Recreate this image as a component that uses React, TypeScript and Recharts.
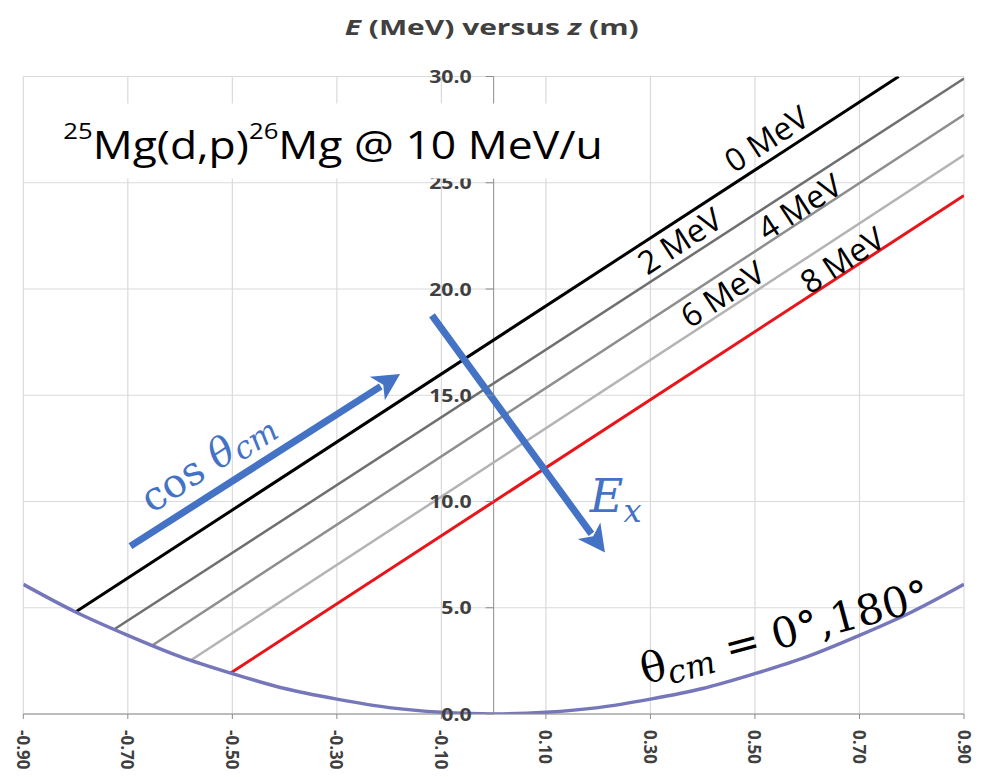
import React from "react";
import {
  ComposedChart,
  Line,
  XAxis,
  YAxis,
  CartesianGrid,
  ReferenceLine,
  ReferenceDot,
} from "recharts";

// axes
const Z_TICKS = [-0.9, -0.7, -0.5, -0.3, -0.1, 0.1, 0.3, 0.5, 0.7, 0.9];
const E_TICKS = [0, 5, 10, 15, 20, 25, 30];

// theta_cm = 0 / 180 deg boundary: E (MeV) against z (m)
const EDGE_Z = [-0.9, -0.8, -0.7, -0.6, -0.5, -0.4, -0.3, -0.2, -0.1, 0, 0.1, 0.2, 0.3, 0.4, 0.5, 0.6, 0.7, 0.8, 0.9];
const EDGE_E = [6.1, 4.8, 3.7, 2.7, 1.9, 1.2, 0.7, 0.3, 0.08, 0, 0.08, 0.3, 0.7, 1.2, 1.9, 2.7, 3.7, 4.8, 6.1];

// excitation-energy lines, from the boundary up to the edge of the plot
const EX_NAMES = ["0 MeV", "2 MeV", "4 MeV", "6 MeV", "8 MeV"];
const EX_Z_START = [-0.8, -0.725, -0.652, -0.578, -0.504];
const EX_E_START = [4.8, 4.0, 3.25, 2.55, 1.92];
const EX_Z_END = [0.775, 0.9, 0.9, 0.9, 0.9];
const EX_E_END = [30.0, 29.9, 28.2, 26.3, 24.4];
const EX_LABEL_Z = [0.521, 0.355, 0.584, 0.437, 0.666];
const EX_LABEL_E = [27.1, 22.3, 23.9, 19.8, 21.4];

const EX_COLORS = ["#000000", "#6f6f6f", "#8e8e8e", "#b4b4b4", "#e8161b"];
const EX_WIDTHS = [3, 2.5, 2.5, 2.5, 3];

const BLUE = "#4472c4";
const TICK_FONT = '"Open Sans", "Liberation Sans", sans-serif';
const MATH_FONT = '"DejaVu Serif", "Liberation Serif", serif';

const edgeData = EDGE_Z.map((z, i) => ({ z, E: EDGE_E[i] }));
const exData = EX_NAMES.map((_, i) => [
  { z: EX_Z_START[i], E: EX_E_START[i] },
  { z: EX_Z_END[i], E: EX_E_END[i] },
]);

const XTick = (props: any) => {
  const { x, y, payload } = props;
  return (
    <text
      x={x}
      y={y}
      transform={`rotate(90 ${x} ${y})`}
      dx={9}
      textAnchor="start"
      dominantBaseline="central"
      fontFamily={TICK_FONT}
      fontWeight={700}
      fontSize={17}
      fill="#404040"
    >
      {payload.value.toFixed(2)}
    </text>
  );
};

// y tick labels sit beside the z = 0 axis
const yTickShape = (value: number) => (p: any) => (
  <g>
    <line x1={p.cx - 8} y1={p.cy} x2={p.cx} y2={p.cy} stroke="#8c8c8c" />
    <text
      transform={`translate(${p.cx - 22} ${p.cy}) scale(1.25 1)`}
      textAnchor="end"
      dominantBaseline="central"
      fontFamily={TICK_FONT}
      fontWeight={700}
      fontSize={17}
      fill="#404040"
    >
      {value.toFixed(1)}
    </text>
  </g>
);

const Arrow = (p: any) => {
  const { x1, y1, x2, y2 } = p;
  const a = Math.atan2(y2 - y1, x2 - x1);
  const len = 27;
  const half = 14;
  const bx = x2 - len * Math.cos(a);
  const by = y2 - len * Math.sin(a);
  const nx = -Math.sin(a);
  const ny = Math.cos(a);
  return (
    <g>
      <line x1={x1} y1={y1} x2={bx + 4 * Math.cos(a)} y2={by + 4 * Math.sin(a)} stroke={BLUE} strokeWidth={7} />
      <polygon
        points={`${x2},${y2} ${bx + half * nx},${by + half * ny} ${bx + 7 * Math.cos(a)},${by + 7 * Math.sin(a)} ${bx - half * nx},${by - half * ny}`}
        fill={BLUE}
      />
    </g>
  );
};

const exLabel = (name: string) => (p: any) => (
  <text
    x={p.cx}
    y={p.cy}
    transform={`rotate(-33 ${p.cx} ${p.cy})`}
    textAnchor="middle"
    dominantBaseline="central"
    fontFamily={TICK_FONT}
    fontSize={32}
    fill="#000"
  >
    {name}
  </text>
);

// reaction caption on a white box that hides the grid behind it
const reactionNote = (p: any) => (
  <g>
    <rect x={p.cx - 23} y={p.cy - 55} width={585} height={75} fill="#fff" />
    <text
      transform={`translate(${p.cx} ${p.cy}) scale(1.17 1)`}
      fontFamily={TICK_FONT}
      fontSize={38}
      fill="#000"
    >
      <tspan fontSize={22} dy={-20}>25</tspan>
      <tspan dy={20}>Mg(d,p)</tspan>
      <tspan fontSize={22} dy={-20}>26</tspan>
      <tspan dy={20}>Mg @ 10 MeV/u</tspan>
    </text>
  </g>
);

const cosNote = (p: any) => (
  <text
    x={p.cx}
    y={p.cy}
    transform={`rotate(-33 ${p.cx} ${p.cy})`}
    textAnchor="middle"
    dominantBaseline="central"
    fontFamily={MATH_FONT}
    fontSize={40}
    fill={BLUE}
  >
    cos <tspan fontStyle="italic">θ</tspan>
    <tspan fontStyle="italic" fontSize={31} dy={8}>cm</tspan>
  </text>
);

const exNote = (p: any) => (
  <text x={p.cx} y={p.cy} fontFamily={MATH_FONT} fontSize={46} fill={BLUE}>
    <tspan fontStyle="italic">E</tspan>
    <tspan fontStyle="italic" fontSize={32} dy={10}>x</tspan>
  </text>
);

const edgeNote = (p: any) => (
  <text
    x={p.cx}
    y={p.cy}
    transform={`rotate(-15 ${p.cx} ${p.cy})`}
    textAnchor="middle"
    dominantBaseline="central"
    fontFamily={MATH_FONT}
    fontSize={42}
    fill="#000"
  >
    θ<tspan fontStyle="italic" fontSize={32} dy={10}>cm</tspan>
    <tspan dy={-10}> = 0°,180°</tspan>
  </text>
);

export default function App() {
  return (
    <div style={{ position: "absolute", left: 0, top: 0, width: 982, height: 777, background: "#fff" }}>
      <ComposedChart
        width={982}
        height={777}
        margin={{ top: 76.5, right: 18, bottom: 0, left: 23.3 }}
      >
        <CartesianGrid stroke="#dadada" strokeWidth={1.2} />
        <XAxis
          dataKey="z"
          type="number"
          domain={[-0.9, 0.9]}
          ticks={Z_TICKS}
          allowDataOverflow
          height={63}
          stroke="#8c8c8c"
          tickSize={5}
          tick={<XTick />}
        />
        <YAxis type="number" domain={[0, 30]} ticks={E_TICKS} hide allowDataOverflow />
        <ReferenceLine x={0} stroke="#8c8c8c" />
        {E_TICKS.map((v) => (
          <ReferenceDot key={`yt-${v}`} x={0} y={v} r={0} shape={yTickShape(v)} />
        ))}
        {exData.map((d, i) => (
          <Line
            key={EX_NAMES[i]}
            data={d}
            dataKey="E"
            type="linear"
            stroke={EX_COLORS[i]}
            strokeWidth={EX_WIDTHS[i]}
            dot={false}
            isAnimationActive={false}
          />
        ))}
        <Line
          data={edgeData}
          dataKey="E"
          type="monotone"
          stroke="#7676bb"
          strokeWidth={3.5}
          dot={false}
          isAnimationActive={false}
        />
        {EX_NAMES.map((n, i) => (
          <ReferenceDot key={`lab-${n}`} x={EX_LABEL_Z[i]} y={EX_LABEL_E[i]} r={0} shape={exLabel(n)} />
        ))}
        <ReferenceDot x={-0.8235} y={26.14} r={0} shape={reactionNote} zIndex={1000} />
        <ReferenceLine segment={[{ x: -0.695, y: 7.9 }, { x: -0.179, y: 16.0 }]} shape={Arrow} />
        <ReferenceLine segment={[{ x: -0.118, y: 18.76 }, { x: 0.213, y: 7.6 }]} shape={Arrow} />
        <ReferenceDot x={-0.548} y={11.9} r={0} shape={cosNote} />
        <ReferenceDot x={0.184} y={9.5} r={0} shape={exNote} />
        <ReferenceDot x={0.557} y={3.86} r={0} shape={edgeNote} />
      </ComposedChart>
      <div
        style={{
          position: "absolute",
          top: 11,
          left: 0,
          width: 982,
          textAlign: "center",
          fontFamily: TICK_FONT,
          fontWeight: 700,
          fontSize: 22,
          lineHeight: "30px",
          color: "#404040",
          transform: "scaleX(1.36)",
          transformOrigin: "489px 0",
        }}
      >
        <i>E</i> (MeV) versus <i>z</i> (m)
      </div>
    </div>
  );
}
